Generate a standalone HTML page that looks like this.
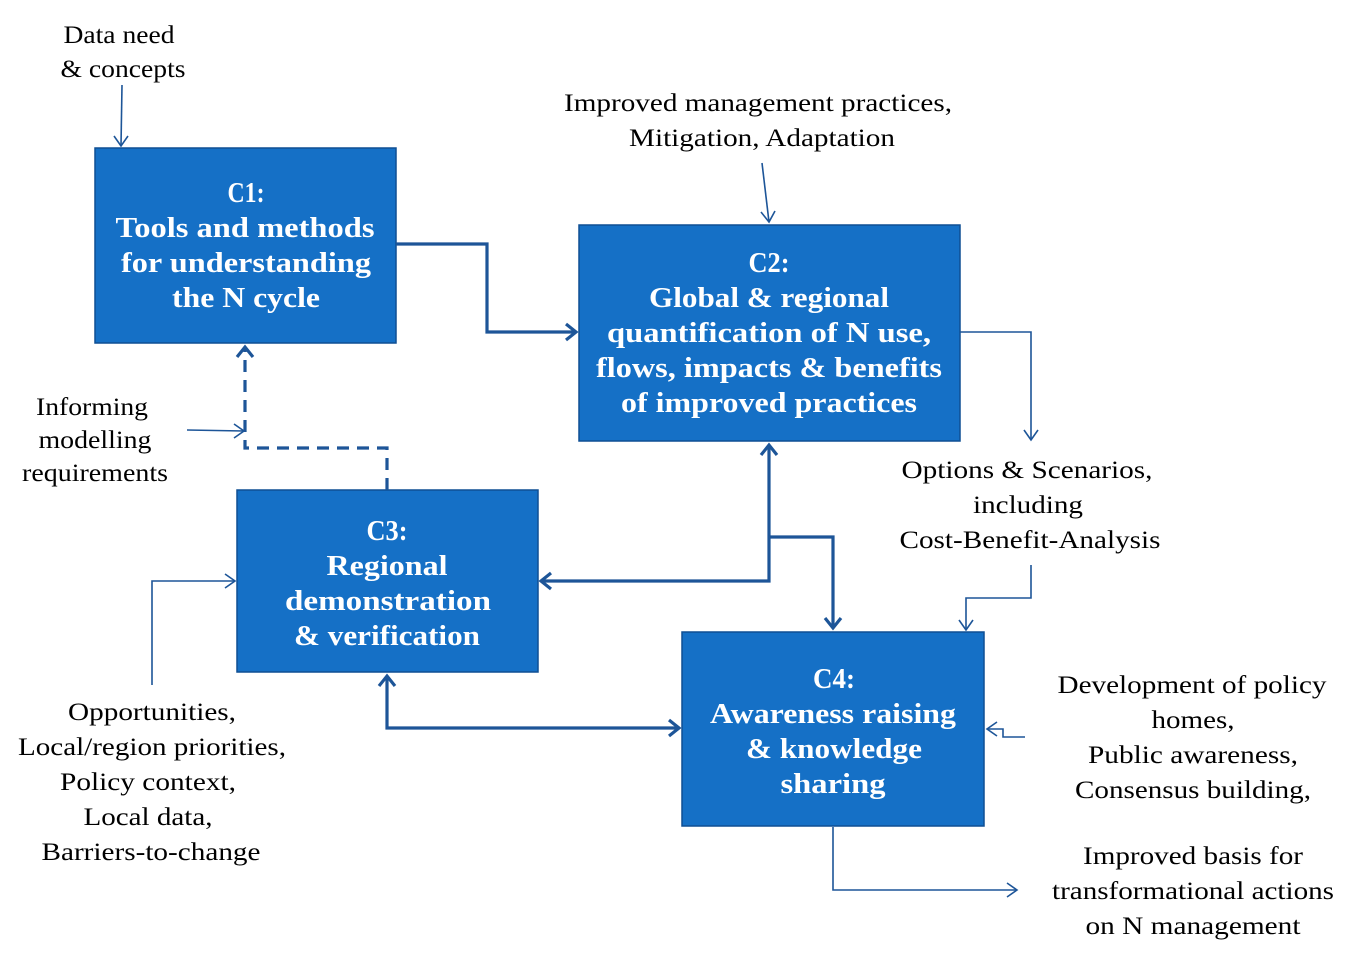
<!DOCTYPE html>
<html><head><meta charset="utf-8"><style>
html,body{margin:0;padding:0;background:#fff;}
svg{display:block;}
.b{fill:#1570c6;stroke:#0f4f94;stroke-width:1.5;}
.bt{font-family:"Liberation Serif",serif;font-weight:bold;font-size:29px;fill:#fff;text-anchor:middle;}
.lt{font-family:"Liberation Serif",serif;font-size:25px;fill:#000;text-anchor:middle;}
.th{fill:none;stroke:#1d5598;stroke-width:3.2;}
.tn{fill:none;stroke:#1d5598;stroke-width:1.6;}
</style></head><body>
<svg width="1368" height="960" viewBox="0 0 1368 960" xmlns="http://www.w3.org/2000/svg">
<rect class="b" x="95" y="148" width="301" height="195"/>
<rect class="b" x="579" y="225" width="381" height="216"/>
<rect class="b" x="237" y="490" width="301" height="182"/>
<rect class="b" x="682" y="632" width="302" height="194"/>

<g lengthAdjust="spacingAndGlyphs">
<text class="bt" x="246" y="202" textLength="37" lengthAdjust="spacingAndGlyphs">C1:</text>
<text class="bt" x="245" y="237" textLength="259" lengthAdjust="spacingAndGlyphs">Tools and methods</text>
<text class="bt" x="246" y="272" textLength="250" lengthAdjust="spacingAndGlyphs">for understanding</text>
<text class="bt" x="246" y="307" textLength="148" lengthAdjust="spacingAndGlyphs">the N cycle</text>

<text class="bt" x="769" y="272" textLength="41" lengthAdjust="spacingAndGlyphs">C2:</text>
<text class="bt" x="769" y="307" textLength="240" lengthAdjust="spacingAndGlyphs">Global &amp; regional</text>
<text class="bt" x="769" y="342" textLength="324" lengthAdjust="spacingAndGlyphs">quantification of N use,</text>
<text class="bt" x="769" y="377" textLength="346" lengthAdjust="spacingAndGlyphs">flows, impacts &amp; benefits</text>
<text class="bt" x="769" y="412" textLength="296" lengthAdjust="spacingAndGlyphs">of improved practices</text>

<text class="bt" x="387" y="540" textLength="41" lengthAdjust="spacingAndGlyphs">C3:</text>
<text class="bt" x="387" y="575" textLength="121" lengthAdjust="spacingAndGlyphs">Regional</text>
<text class="bt" x="388" y="610" textLength="206" lengthAdjust="spacingAndGlyphs">demonstration</text>
<text class="bt" x="387" y="645" textLength="186" lengthAdjust="spacingAndGlyphs">&amp; verification</text>

<text class="bt" x="834" y="688" textLength="42" lengthAdjust="spacingAndGlyphs">C4:</text>
<text class="bt" x="833" y="723" textLength="246" lengthAdjust="spacingAndGlyphs">Awareness raising</text>
<text class="bt" x="834" y="758" textLength="176" lengthAdjust="spacingAndGlyphs">&amp; knowledge</text>
<text class="bt" x="833" y="793" textLength="105" lengthAdjust="spacingAndGlyphs">sharing</text>

<text class="lt" x="119" y="43" textLength="111" lengthAdjust="spacingAndGlyphs">Data need</text>
<text class="lt" x="123" y="77" textLength="125" lengthAdjust="spacingAndGlyphs">&amp; concepts</text>
<text class="lt" x="758" y="111" textLength="388" lengthAdjust="spacingAndGlyphs">Improved management practices,</text>
<text class="lt" x="762" y="146" textLength="266" lengthAdjust="spacingAndGlyphs">Mitigation, Adaptation</text>
<text class="lt" x="92" y="415" textLength="112" lengthAdjust="spacingAndGlyphs">Informing</text>
<text class="lt" x="95" y="448" textLength="113" lengthAdjust="spacingAndGlyphs">modelling</text>
<text class="lt" x="95" y="481" textLength="146" lengthAdjust="spacingAndGlyphs">requirements</text>
<text class="lt" x="1027" y="478" textLength="251" lengthAdjust="spacingAndGlyphs">Options &amp; Scenarios,</text>
<text class="lt" x="1028" y="513" textLength="110" lengthAdjust="spacingAndGlyphs">including</text>
<text class="lt" x="1030" y="548" textLength="261" lengthAdjust="spacingAndGlyphs">Cost-Benefit-Analysis</text>
<text class="lt" x="152" y="720" textLength="168" lengthAdjust="spacingAndGlyphs">Opportunities,</text>
<text class="lt" x="152" y="755" textLength="268" lengthAdjust="spacingAndGlyphs">Local/region priorities,</text>
<text class="lt" x="148" y="790" textLength="176" lengthAdjust="spacingAndGlyphs">Policy context,</text>
<text class="lt" x="148" y="825" textLength="129" lengthAdjust="spacingAndGlyphs">Local data,</text>
<text class="lt" x="151" y="860" textLength="219" lengthAdjust="spacingAndGlyphs">Barriers-to-change</text>
<text class="lt" x="1192" y="693" textLength="269" lengthAdjust="spacingAndGlyphs">Development of policy</text>
<text class="lt" x="1193" y="728" textLength="83" lengthAdjust="spacingAndGlyphs">homes,</text>
<text class="lt" x="1193" y="763" textLength="210" lengthAdjust="spacingAndGlyphs">Public awareness,</text>
<text class="lt" x="1193" y="798" textLength="236" lengthAdjust="spacingAndGlyphs">Consensus building,</text>
<text class="lt" x="1193" y="864" textLength="220" lengthAdjust="spacingAndGlyphs">Improved basis for</text>
<text class="lt" x="1193" y="899" textLength="282" lengthAdjust="spacingAndGlyphs">transformational actions</text>
<text class="lt" x="1193" y="934" textLength="215" lengthAdjust="spacingAndGlyphs">on N management</text>
</g>

<polyline class="th" points="396,244 487,244 487,332 576,332"/>
<polyline class="th" points="566,324 576,332 566,340"/>
<polyline class="th" points="387,490 387,448 245,448 245,347" stroke-dasharray="12,8"/>
<polyline class="th" points="237,357 245,347 253,357"/>
<polyline class="th" points="769,445 769,581 541,581"/>
<polyline class="th" points="761,455 769,445 777,455"/>
<polyline class="th" points="551,573 541,581 551,589"/>
<polyline class="th" points="769,537 833,537 833,628"/>
<polyline class="th" points="825,618 833,628 841,618"/>
<polyline class="th" points="387,676 387,728 679,728"/>
<polyline class="th" points="379,686 387,676 395,686"/>
<polyline class="th" points="669,720 679,728 669,736"/>

<polyline class="tn" points="122,85 121,146"/>
<polyline class="tn" points="114,136 121,146 128,136"/>
<polyline class="tn" points="187,430 244,431"/>
<polyline class="tn" points="234,424 244,431 234,438"/>
<polyline class="tn" points="762,163 769,222"/>
<polyline class="tn" points="761,212 769,222 775,211"/>
<polyline class="tn" points="960,332 1031,332 1031,440"/>
<polyline class="tn" points="1024,430 1031,440 1038,430"/>
<polyline class="tn" points="152,685 152,581 235,581"/>
<polyline class="tn" points="225,574 235,581 225,588"/>
<polyline class="tn" points="1031,565 1031,598 966,598 966,630"/>
<polyline class="tn" points="959,620 966,630 973,620"/>
<polyline class="tn" points="1025,737 1003,737 1003,729 987,729"/>
<polyline class="tn" points="997,722 987,729 997,736"/>
<polyline class="tn" points="833,827 833,890 1017,890"/>
<polyline class="tn" points="1007,883 1017,890 1007,897"/>
</svg>
</body></html>
